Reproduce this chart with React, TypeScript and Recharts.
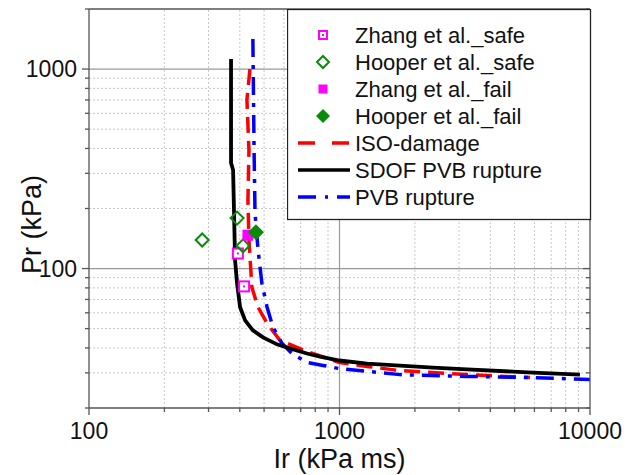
import { ComposedChart, Line, Scatter, XAxis, YAxis, ReferenceLine, Legend } from 'recharts';

const FONT = '"Liberation Sans", Arial, sans-serif';
const AXIS = '#555';

// axis ticks (log decades + minor steps)
const xMajor = [100, 1000, 10000];
const yMajor = [100, 1000];
const xMinor = [200, 300, 400, 500, 600, 700, 800, 900, 2000, 3000, 4000, 5000, 6000, 7000, 8000, 9000];
const yMinor = [30, 40, 50, 60, 70, 80, 90, 200, 300, 400, 500, 600, 700, 800, 900];
const xTicks = [...xMajor, ...xMinor].sort((a, b) => a - b);
const yTicks = [20, ...yMinor, ...yMajor, 2000].sort((a, b) => a - b);

// SDOF PVB rupture (black)
const sdofIr = [369, 369, 376, 383, 390, 401, 420, 451, 495, 563, 634, 742, 836, 1000, 1288, 2361, 3228, 5922, 9120];
const sdofPr = [1123, 338, 312, 110, 84.4, 64, 55, 49, 45.2, 41.7, 39.8, 37.5, 36.2, 34.6, 33.4, 31.9, 31.2, 30.1, 29.4];

// ISO-damage (red dashed)
const isoIr = [439, 427, 435, 431, 435, 447, 473, 514, 579, 742, 1000, 1288, 1744, 3228, 5761];
const isoPr = [1000, 701, 393, 220, 139, 80.5, 64, 53.1, 43.6, 38.4, 33.8, 32.3, 30.8, 29.4, 28.4];

// PVB rupture (blue dash-dot)
const pvbIr = [451, 456, 460, 473, 490, 514, 543, 590, 646, 742, 859, 1000, 1744, 3228, 5922, 10000];
const pvbPr = [1415, 393, 190, 124, 84.4, 64, 50.7, 42.1, 37.5, 33.8, 32.7, 31.5, 29.4, 28.8, 28.4, 27.8];

// test points
const zhangSafeIr = [393, 416];
const zhangSafePr = [119, 81.4];
const hooperSafeIr = [283, 390, 412];
const hooperSafePr = [139, 179, 130];
const zhangFailIr = [431];
const zhangFailPr = [147];
const hooperFailIr = [464];
const hooperFailPr = [152];

const toPts = (xs: number[], ys: number[]) => xs.map((x, i) => ({ x, y: ys[i] }));

const MAGENTA = '#ff00ff';
const GREEN = '#0a8a0a';

const HollowSquare = ({ cx, cy, s = 10 }: any) => (
  <g>
    <rect x={cx - s / 2} y={cy - s / 2} width={s} height={s} fill="#fff" stroke={MAGENTA} strokeWidth={2} />
    <rect x={cx - 1} y={cy - 1} width={2} height={2} fill={MAGENTA} />
  </g>
);
const FilledSquare = ({ cx, cy, s = 11 }: any) => (
  <rect x={cx - s / 2} y={cy - s / 2} width={s} height={s} fill={MAGENTA} />
);
const HollowDiamond = ({ cx, cy, r = 6.5 }: any) => (
  <path d={`M${cx},${cy - r}L${cx + r},${cy}L${cx},${cy + r}L${cx - r},${cy}Z`} fill="none" stroke={GREEN} strokeWidth={2} />
);
const FilledDiamond = ({ cx, cy, r = 8 }: any) => (
  <path d={`M${cx},${cy - r}L${cx + r},${cy}L${cx},${cy + r}L${cx - r},${cy}Z`} fill={GREEN} />
);

const legendItems = [
  { name: 'Zhang et al._safe', kind: 'zs' },
  { name: 'Hooper et al._safe', kind: 'hs' },
  { name: 'Zhang et al._fail', kind: 'zf' },
  { name: 'Hooper et al._fail', kind: 'hf' },
  { name: 'ISO-damage', kind: 'iso' },
  { name: 'SDOF PVB rupture', kind: 'sdof' },
  { name: 'PVB rupture', kind: 'pvb' },
];

const LegendBox = () => (
  <svg width={305} height={212} style={{ display: 'block' }}>
    <rect x={0.5} y={0.5} width={303} height={210} fill="#fff" stroke="#222" strokeWidth={1.3} />
    {legendItems.map((it, i) => {
      const cy = 26 + i * 27;
      let icon = null;
      if (it.kind === 'zs') icon = <HollowSquare cx={36} cy={cy} s={8} />;
      if (it.kind === 'hs') icon = <HollowDiamond cx={36} cy={cy} r={6} />;
      if (it.kind === 'zf') icon = <FilledSquare cx={36} cy={cy} s={9} />;
      if (it.kind === 'hf') icon = <FilledDiamond cx={36} cy={cy} r={7} />;
      if (it.kind === 'iso') icon = <line x1={11} x2={63} y1={cy} y2={cy} stroke="#ff0000" strokeWidth={3.5} strokeDasharray="17 17" />;
      if (it.kind === 'sdof') icon = <line x1={11} x2={63} y1={cy} y2={cy} stroke="#000" strokeWidth={3.5} />;
      if (it.kind === 'pvb') icon = <line x1={11} x2={63} y1={cy} y2={cy} stroke="#0000ff" strokeWidth={3.5} strokeDasharray="18 9 3 9" />;
      return (
        <g key={it.name}>
          {icon}
          <text x={68} y={cy + 8} fontSize={22} fontFamily={FONT} fill="#111">{it.name}</text>
        </g>
      );
    })}
  </svg>
);

const LeftTick = ({ x, y, payload }: any) => {
  const major = yMajor.includes(payload.value);
  return (
    <g>
      <line x1={x} x2={x - (major ? 7 : 4)} y1={y} y2={y} stroke={AXIS} strokeWidth={1.3} />
      {major && (
        <text x={x - 12} y={y + 8} textAnchor="end" fontSize={23} fontFamily={FONT} fill="#111">{payload.value}</text>
      )}
    </g>
  );
};

const RightTick = ({ x, y, payload }: any) => {
  const major = yMajor.includes(payload.value);
  return <line x1={x} x2={x - (major ? 7 : 4)} y1={y} y2={y} stroke={AXIS} strokeWidth={1.3} />;
};

const BottomTick = ({ x, y, payload }: any) => {
  const major = xMajor.includes(payload.value);
  return (
    <g>
      <line x1={x} x2={x} y1={y} y2={y + (major ? 7 : 4)} stroke={AXIS} strokeWidth={1.3} />
      {major && (
        <text x={x} y={y + 31} textAnchor="middle" fontSize={23} fontFamily={FONT} fill="#111">{payload.value}</text>
      )}
    </g>
  );
};

export default function App() {
  return (
    <div style={{ position: 'absolute', left: 0, top: 0, background: '#fff' }}>
      <ComposedChart width={633} height={475} margin={{ top: 0, right: 0, bottom: 0, left: 0 }}>
        <XAxis xAxisId="t" orientation="top" type="number" scale="log" domain={[100, 10000]} allowDataOverflow
          height={9} tick={false} tickLine={false} axisLine={{ stroke: AXIS, strokeWidth: 1.3 }} />
        <XAxis dataKey="x" type="number" scale="log" domain={[100, 10000]} allowDataOverflow ticks={xTicks} interval={0}
          height={67} tickSize={0} tickMargin={0} tickLine={false} tick={BottomTick} axisLine={{ stroke: AXIS, strokeWidth: 1.3 }}
          label={{
            content: ({ viewBox }: any) => (
              <text x={viewBox.x + viewBox.width / 2} y={468} textAnchor="middle" fontSize={27} fontFamily={FONT} fill="#111">Ir (kPa ms)</text>
            ),
          }} />
        <YAxis dataKey="y" type="number" scale="log" domain={[20, 2000]} allowDataOverflow ticks={yTicks} interval={0}
          width={89} tickSize={0} tickMargin={0} tickLine={false} tick={LeftTick} axisLine={{ stroke: AXIS, strokeWidth: 1.3 }}
          label={{
            content: ({ viewBox }: any) => (
              <text transform={`translate(41, ${viewBox.y + viewBox.height / 2 + 16}) rotate(-90)`} textAnchor="middle"
                fontSize={27} fontFamily={FONT} fill="#111">Pr (kPa)</text>
            ),
          }} />
        <YAxis yAxisId="r" orientation="right" type="number" scale="log" domain={[20, 2000]} allowDataOverflow ticks={yTicks} interval={0}
          width={43} tickSize={0} tickMargin={0} tickLine={false} tick={RightTick} axisLine={{ stroke: AXIS, strokeWidth: 1.3 }} />

        {xMinor.map(v => (
          <ReferenceLine key={'xm' + v} x={v} stroke="#c8c8c8" strokeDasharray="2 2" />
        ))}
        {yMinor.map(v => (
          <ReferenceLine key={'ym' + v} y={v} stroke="#c8c8c8" strokeDasharray="2 2" />
        ))}
        <ReferenceLine x={1000} stroke="#999" strokeWidth={1.2} />
        {yMajor.map(v => (
          <ReferenceLine key={'yM' + v} y={v} stroke="#999" strokeWidth={1.2} />
        ))}

        <Line data={toPts(isoIr, isoPr)} dataKey="y" type="linear" stroke="#ff0000" strokeWidth={3.5}
          strokeDasharray="16 8" dot={false} isAnimationActive={false} legendType="none" />
        <Line data={toPts(pvbIr, pvbPr)} dataKey="y" type="linear" stroke="#0000ff" strokeWidth={3.5}
          strokeDasharray="18 8 4 8" dot={false} isAnimationActive={false} legendType="none" />
        <Line data={toPts(sdofIr, sdofPr)} dataKey="y" type="linear" stroke="#000" strokeWidth={3.8}
          dot={false} isAnimationActive={false} legendType="none" />

        <Scatter data={toPts(zhangSafeIr, zhangSafePr)} dataKey="y" shape={(p: any) => <HollowSquare cx={p.cx} cy={p.cy} />} isAnimationActive={false} />
        <Scatter data={toPts(hooperSafeIr, hooperSafePr)} dataKey="y" shape={(p: any) => <HollowDiamond cx={p.cx} cy={p.cy} />} isAnimationActive={false} />
        <Scatter data={toPts(zhangFailIr, zhangFailPr)} dataKey="y" shape={(p: any) => <FilledSquare cx={p.cx} cy={p.cy} />} isAnimationActive={false} />
        <Scatter data={toPts(hooperFailIr, hooperFailPr)} dataKey="y" shape={(p: any) => <FilledDiamond cx={p.cx} cy={p.cy} />} isAnimationActive={false} />

        <Legend layout="vertical" align="center" verticalAlign="middle" content={LegendBox}
          wrapperStyle={{ position: 'absolute', left: 287, top: 9, width: 305, height: 212 }} />
      </ComposedChart>
    </div>
  );
}
